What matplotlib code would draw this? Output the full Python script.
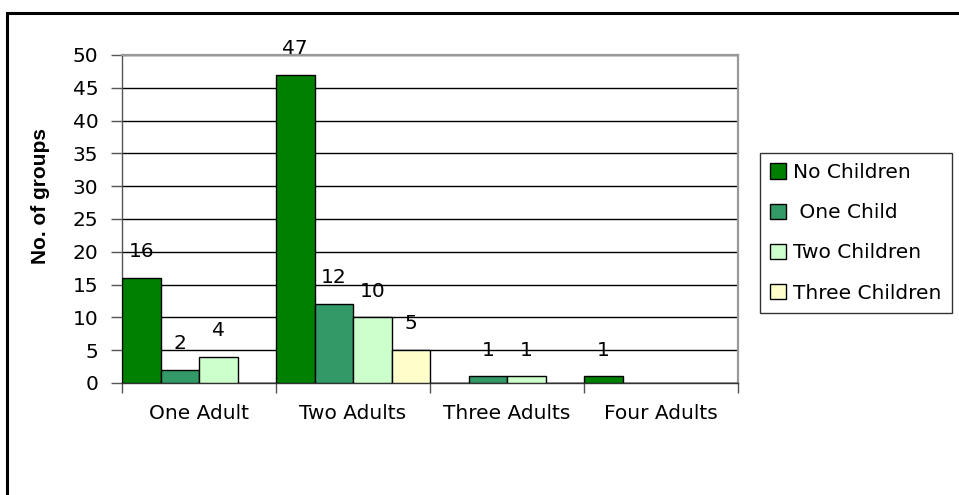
import matplotlib
matplotlib.use("Agg")
import matplotlib.pyplot as plt
from matplotlib.patches import Rectangle
import numpy as np

plt.rcParams["font.family"] = ["DejaVu Sans"]

# ===== data =====
categories = ["One Adult", "Two Adults", "Three Adults", "Four Adults"]
series_names = ["No Children", " One Child", "Two Children", "Three Children"]
no_children = [16, 47, 0, 1]
one_child = [2, 12, 1, 0]
two_children = [4, 10, 1, 0]
three_children = [0, 5, 0, 0]
colors = ["#008000", "#339966", "#CCFFCC", "#FFFFCC"]

W, H = 959, 495
fig = plt.figure(figsize=(W / 100, H / 100), dpi=100)
ax = fig.add_axes([122 / W, 1 - 383 / H, 616 / W, 328 / H])

x = np.arange(len(categories))
bw = 0.25
fs = 14.5
for i, (vals, name, c) in enumerate(zip(
        [no_children, one_child, two_children, three_children], series_names, colors)):
    pos = x - 0.375 + i * bw
    ax.bar(pos, vals, width=bw, color=c, edgecolor="black", linewidth=1.0,
           label=name, zorder=3)
    # 柱上标注数值 (0 不标)
    for p, v in zip(pos, vals):
        if v:
            ax.annotate(str(v), (p, v), xytext=(0, 19), textcoords="offset points",
                        ha="center", va="center", fontsize=fs, zorder=4,
                        annotation_clip=False)

ax.set_xlim(-0.5, 3.5)
ax.set_ylim(0, 50)
ax.set_yticks(range(0, 51, 5))
ax.tick_params(axis="y", direction="out", length=8, width=1, labelsize=fs, pad=9,
               color="#555555")

# category boundaries as tick marks, names as minor ticks
ax.set_xticks(np.arange(-0.5, 4, 1))
ax.set_xticklabels([])
ax.set_xticks(x, minor=True)
ax.set_xticklabels(categories, minor=True, fontsize=fs)
ax.tick_params(axis="x", which="major", direction="out", length=7, width=1, color="#555555")
ax.tick_params(axis="x", which="minor", length=0, pad=15)

ax.yaxis.grid(True, color="black", linewidth=1.0, zorder=0)
ax.set_axisbelow(True)
for s in ["top", "right"]:
    ax.spines[s].set_color("#999999")
    ax.spines[s].set_linewidth(1.6)
ax.spines["left"].set_color("#555555")
ax.spines["bottom"].set_color("#333333")
ax.spines["left"].set_linewidth(1.0)
ax.spines["bottom"].set_linewidth(1.0)

ax.set_ylabel("No. of groups", fontsize=15, fontweight="bold",
              family=["Liberation Sans", "DejaVu Sans"])
ax.yaxis.set_label_coords(-0.117, 0.57)

leg = fig.legend(loc="upper left", bbox_to_anchor=(760 / W, 1 - 153 / H),
                 fontsize=fs, frameon=True, fancybox=False, edgecolor="black",
                 handlelength=0.8, handleheight=0.8, handletextpad=0.35,
                 labelspacing=1.05, borderpad=0.5, borderaxespad=0)
leg.get_frame().set_linewidth(1.0)

# outer chart border
fig.patches.append(Rectangle((7 / W, -0.1), 1.2, 1 - 13 / H + 0.1,
                             transform=fig.transFigure, fill=False,
                             edgecolor="black", linewidth=2.2))

fig.savefig("out.png", dpi=100)
plt.close()
